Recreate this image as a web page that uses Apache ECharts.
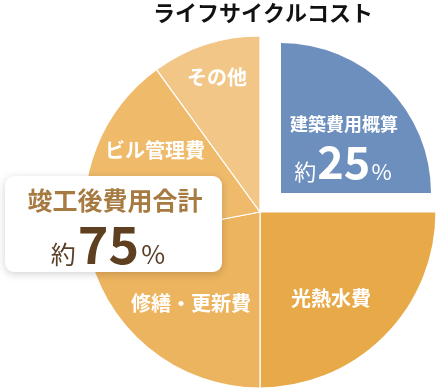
<!DOCTYPE html>
<html><head><meta charset="utf-8">
<script src="https://cdn.jsdelivr.net/npm/echarts@6/dist/echarts.min.js"></script>
<style>html,body{margin:0;padding:0;background:#fff}#c{width:440px;height:390px}</style>
</head><body><div id="c"></div>
<script>
const title = 'ライフサイクルコスト';
const categories = ['建築費用概算', '光熱水費', '修繕・更新費', 'ビル管理費', 'その他'];
const values = [25, 25, 22, 18, 10];
const colors = ['#6d8fbe', '#e8a948', '#edb45f', '#efbb6b', '#f2c686'];
const totalLabel = '竣工後費用合計';
const totalValue = 75;
const buildValue = 25;

const FONT = '"Noto Sans CJK JP", "Noto Sans", sans-serif';
const chart = echarts.init(document.getElementById('c'), null, {renderer: 'canvas'});

const mainData = categories.map((c, i) => ({
  name: c, value: values[i],
  itemStyle: i === 0 ? {color: 'rgba(0,0,0,0)', borderWidth: 0} : {color: colors[i]}
}));
const blueData = [
  {name: categories[0], value: values[0], itemStyle: {color: colors[0]}},
  {name: 'rest', value: values.slice(1).reduce((a, b) => a + b, 0), itemStyle: {color: 'rgba(0,0,0,0)'}}
];

// label placement (positions only)
const labelPos = [null, [331, 298], [191, 303], [155, 150], [217, 77]];
const graphics = [];
graphics.push({type: 'text', z: 20, position: [263, 13], style: {text: title, font: 'bold 22px ' + FONT, fill: '#111', textAlign: 'center', textVerticalAlign: 'middle'}});
for (let i = 1; i < categories.length; i++) {
  graphics.push({type: 'text', z: 20, position: labelPos[i], style: {text: categories[i], font: 'bold 20px ' + FONT, fill: '#fff', textAlign: 'center', textVerticalAlign: 'middle'}});
}
graphics.push({type: 'text', z: 20, position: [344, 124], style: {text: categories[0], font: 'bold 18px ' + FONT, fill: '#fff', textAlign: 'center', textVerticalAlign: 'middle'}});
graphics.push({type: 'text', z: 20, position: [343, 162], style: {
  text: '{a|約}{b|' + buildValue + '}{c|%}', textAlign: 'center', textVerticalAlign: 'middle',
  rich: {
    a: {font: 'normal 22px ' + FONT, fill: '#fff', color: '#fff', verticalAlign: 'bottom', padding: [0, 1, 2, 0]},
    b: {font: 'bold 45px ' + FONT, fill: '#fff', color: '#fff', verticalAlign: 'bottom'},
    c: {font: 'normal 22px ' + FONT, fill: '#fff', color: '#fff', verticalAlign: 'bottom', padding: [0, 0, 2, 1]}
  }
}});
graphics.push({type: 'rect', shape: {x: 5, y: 176, width: 217, height: 96, r: 9}, style: {fill: '#fff', shadowBlur: 8, shadowColor: 'rgba(0,0,0,0.18)', shadowOffsetY: 2}, z: 30});
graphics.push({type: 'text', position: [115, 200], z: 31, style: {text: totalLabel, font: 'bold 25px ' + FONT, fill: '#a67a40', textAlign: 'center', textVerticalAlign: 'middle'}});
graphics.push({type: 'text', position: [108, 244], z: 31, style: {
  text: '{a|約}{b|' + totalValue + '}{c|%}', textAlign: 'center', textVerticalAlign: 'middle',
  rich: {
    a: {font: 'normal 25px ' + FONT, fill: '#5a4028', color: '#5a4028', verticalAlign: 'bottom', padding: [0, 2, 3, 0]},
    b: {font: 'bold 52px ' + FONT, fill: '#5e4020', color: '#5e4020', verticalAlign: 'bottom'},
    c: {font: 'normal 26px ' + FONT, fill: '#5a4028', color: '#5a4028', verticalAlign: 'bottom', padding: [0, 0, 3, 2]}
  }
}});

chart.setOption({
  animation: false,
  series: [
    {type: 'pie', silent: true, z: 2, center: [260, 212], radius: [0, 176], startAngle: 90, clockwise: true,
     label: {show: false}, labelLine: {show: false},
     itemStyle: {borderColor: '#fff', borderWidth: 1.2}, data: mainData},
    {type: 'pie', silent: true, z: 3, center: [281, 193], radius: [0, 150], startAngle: 90, clockwise: true,
     label: {show: false}, labelLine: {show: false},
     itemStyle: {borderWidth: 0}, data: blueData}
  ],
  graphic: graphics
});
</script></body></html>
